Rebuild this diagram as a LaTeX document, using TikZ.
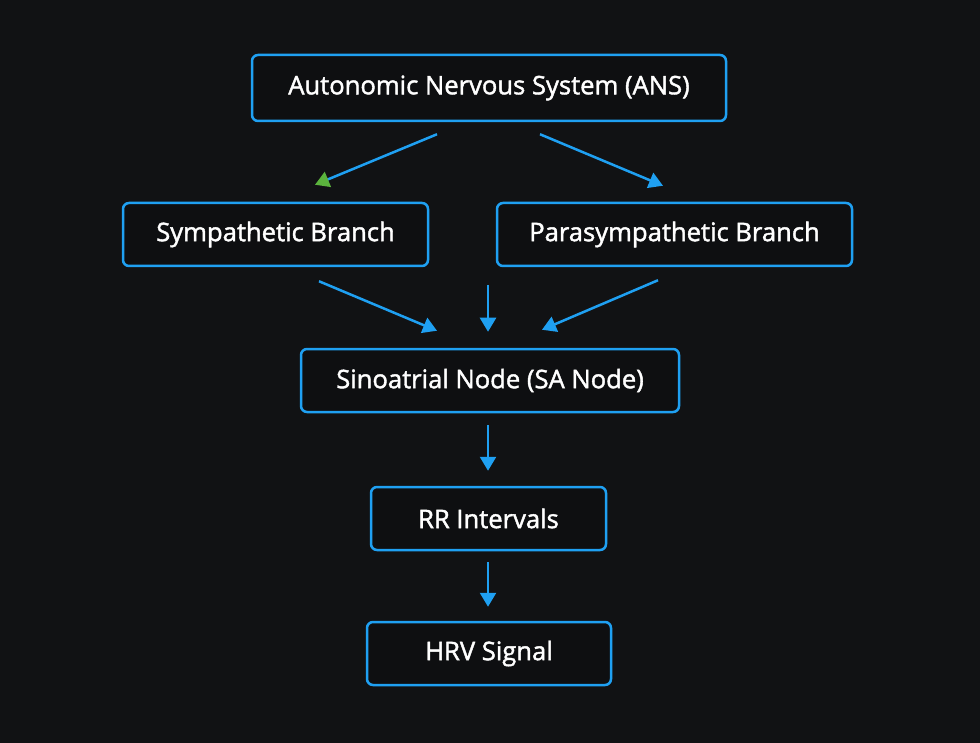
\documentclass[tikz,border=0pt]{standalone}
\usepackage{fontspec}
\setmainfont[FakeBold=1.6]{Open Sans}
\usetikzlibrary{arrows.meta}
\definecolor{bg}{HTML}{111214}
\definecolor{boxfill}{HTML}{0E0F11}
\definecolor{edge}{HTML}{1FA0F2}
\definecolor{tipgreen}{HTML}{5BB33D}
\tikzset{
  box/.style={draw=edge, fill=boxfill, line width=2.5pt, rounded corners=6pt,
    text=white, font=\fontsize{25.6}{30}\selectfont, inner sep=0pt, anchor=center},
  arr/.style={draw=edge, line width=2.5pt, -{Triangle[length=14pt,width=16pt]}},
  arrg/.style={draw=edge, line width=2.5pt, -{Triangle[length=14pt,width=16pt,color=tipgreen]}},
}
\begin{document}
\begin{tikzpicture}[x=1pt,y=-1pt]
\fill[bg] (0,0) rectangle (980,743);
\useasboundingbox (0,0) rectangle (980,743);
\node[box, minimum width=474pt, minimum height=66pt] (ans) at (489,88) {Autonomic Nervous System (ANS)};
\node[box, minimum width=305pt, minimum height=63pt] (symp) at (275.5,234.5) {Sympathetic Branch};
\node[box, minimum width=355pt, minimum height=63pt] (para) at (674.5,234.5) {Parasympathetic Branch};
\node[box, minimum width=378pt, minimum height=63pt] (sa) at (490,380.5) {Sinoatrial Node (SA Node)};
\node[box, minimum width=235pt, minimum height=63pt] (rr) at (488.5,518.5) {RR Intervals};
\node[box, minimum width=244pt, minimum height=63pt] (hrv) at (489,653.5) {HRV Signal};
\coordinate (mid) at (488,285);
\draw[arrg] ([xshift=-52pt,yshift=-12pt]ans.south) -- ([xshift=39.5pt,yshift=17pt]symp.north);
\draw[arr] ([xshift=51pt,yshift=-12pt]ans.south) -- ([xshift=-11.5pt,yshift=16pt]para.north);
\draw[arr] ([xshift=43.5pt,yshift=-14pt]symp.south) -- ([xshift=-53pt,yshift=17pt]sa.north);
\draw[arr] (mid) -- ([xshift=-2pt,yshift=16pt]sa.north);
\draw[arr] ([xshift=-16.5pt,yshift=-13pt]para.south) -- ([xshift=52pt,yshift=18pt]sa.north);
\draw[arr] ([xshift=-2pt,yshift=-12pt]sa.south) -- ([xshift=-0.5pt,yshift=15pt]rr.north);
\draw[arr] ([xshift=-0.5pt,yshift=-11pt]rr.south) -- ([xshift=-1pt,yshift=14pt]hrv.north);
\end{tikzpicture}
\end{document}
